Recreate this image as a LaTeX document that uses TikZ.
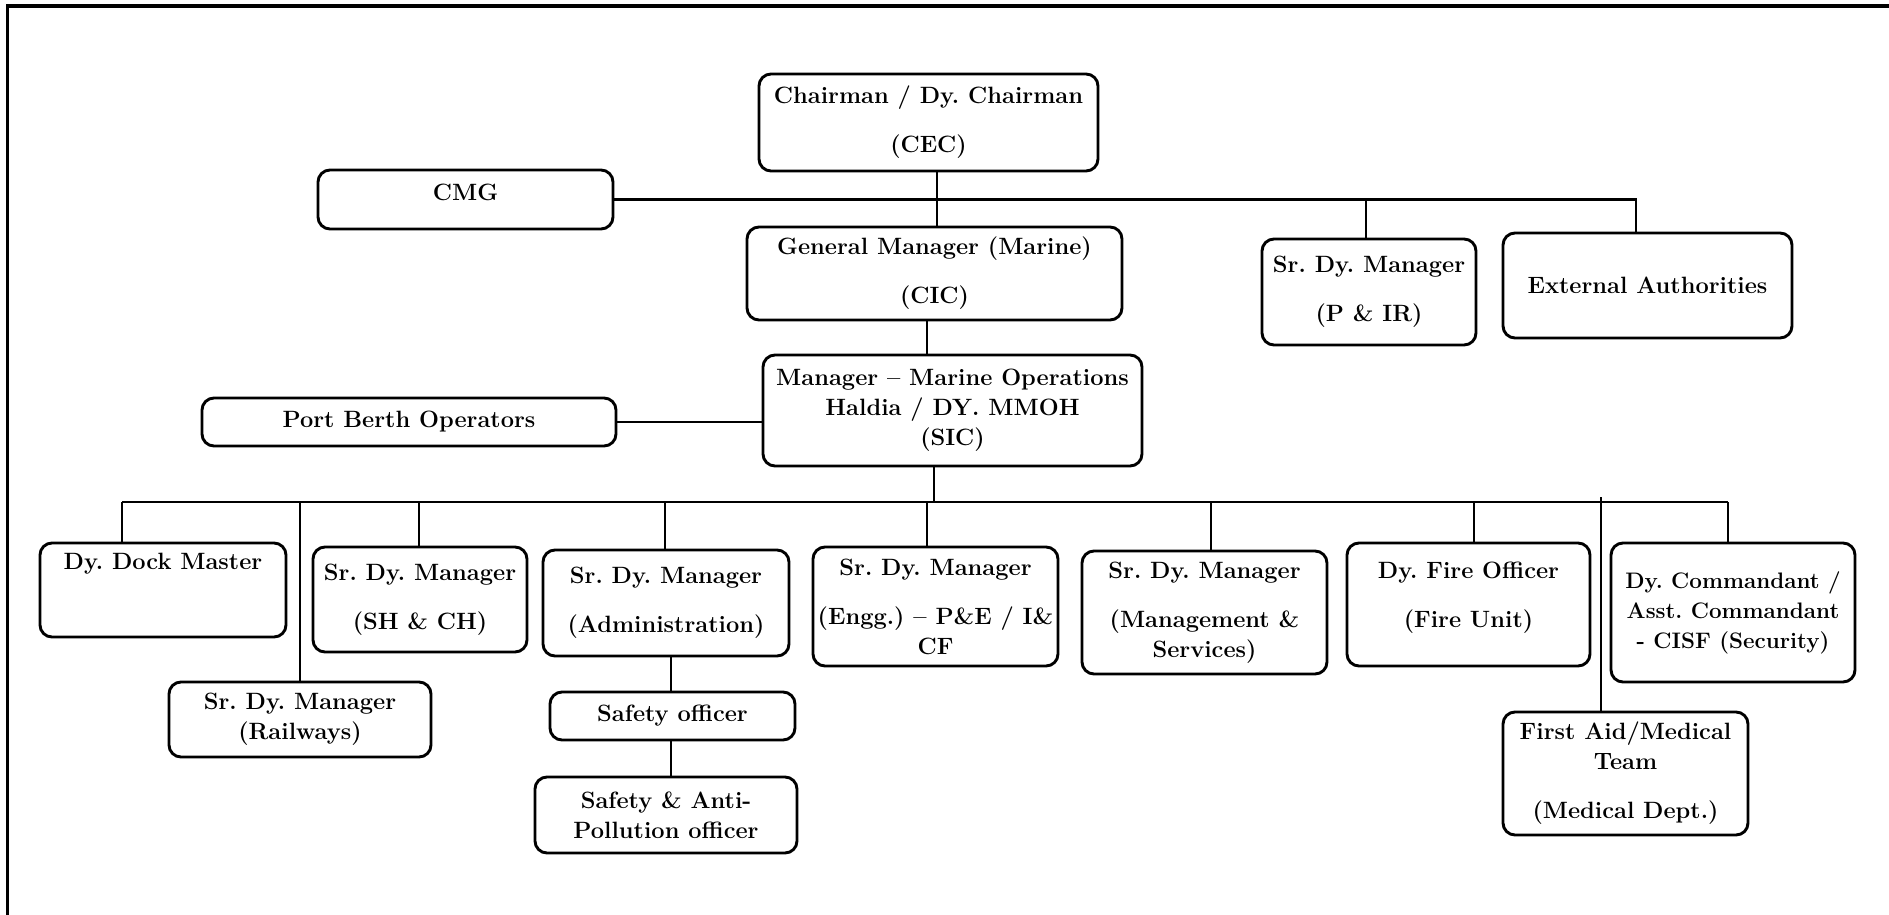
\documentclass[tikz,border=0pt]{standalone}
\begin{document}
\frenchspacing
\begin{tikzpicture}[x=0.5pt,y=-0.5pt,
  box/.style={draw,line width=1.45pt,rounded corners=6pt,inner sep=0pt,align=center,
    font=\fontsize{11.8}{15}\bfseries\selectfont},
  conn/.style={line width=1.15pt}]
\useasboundingbox (0,0) rectangle (1889,915);
\draw[line width=1.6pt] (7.5,915) -- (7.5,6) -- (1889,6);

% top level
\node[box,minimum width=169.5pt,minimum height=48.5pt] (chair) at (928.5,122.5) {Chairman / Dy. Chairman\\[9.5pt](CEC)};
\node[box,minimum width=147.5pt,minimum height=29.5pt,text depth=7.5pt] (cmg) at (465.5,199.5) {CMG};
\node[box,minimum width=187.5pt,minimum height=46.5pt] (gm) at (934.5,273.5) {General Manager (Marine)\\[9.5pt](CIC)};
\node[box,minimum width=107pt,minimum height=53pt] (pir) at (1369,292) {Sr. Dy. Manager\\[9.5pt](P \& IR)};
\node[box,minimum width=144.5pt,minimum height=52.5pt] (ext) at (1647.5,285.5) {External Authorities};
\node[box,minimum width=189.5pt,minimum height=55.5pt] (mmo) at (952.5,410.5) {Manager -- Marine Operations\\Haldia / DY. MMOH\\(SIC)};
\node[box,minimum width=207pt,minimum height=24pt] (pbo) at (409,422) {Port Berth Operators};

% bottom level
\node[box,minimum width=123pt,minimum height=47pt] (dock) at (163,590) {Dy. Dock Master\\[9.5pt]\strut};
\node[box,minimum width=107pt,minimum height=52.5pt] (shch) at (420,599.5) {Sr. Dy. Manager\\[9.5pt](SH \& CH)};
\node[box,minimum width=131pt,minimum height=37.5pt] (rail) at (300,719.5) {Sr. Dy. Manager\\(Railways)};
\node[box,minimum width=123pt,minimum height=53pt] (admin) at (666,603) {Sr. Dy. Manager\\[9.5pt](Administration)};
\node[box,minimum width=122.5pt,minimum height=24pt] (safe) at (672.5,716) {Safety officer};
\node[box,minimum width=131pt,minimum height=38pt] (anti) at (666,815) {Safety \& Anti-\\Pollution officer};
\node[box,minimum width=122.5pt,minimum height=59.5pt] (engg) at (935.5,606.5) {Sr. Dy. Manager\\[9.5pt](Engg.) -- P\&E / I\&\\CF};
\node[box,minimum width=122.5pt,minimum height=61.5pt] (mgmt) at (1204.5,612.5) {Sr. Dy. Manager\\[9.5pt](Management \&\\Services)};
\node[box,minimum width=121.5pt,minimum height=61.5pt,text depth=9.5pt] (fire) at (1468.5,604.5) {Dy. Fire Officer\\[9.5pt](Fire Unit)};
\node[box,minimum width=122pt,minimum height=69.5pt,font=\fontsize{11.2}{15}\bfseries\selectfont] (cisf) at (1733,612.5) {Dy. Commandant /\\Asst. Commandant\\- CISF (Security)};
\node[box,minimum width=122.5pt,minimum height=61.5pt] (med) at (1625.5,773.5) {First Aid/Medical\\Team\\[9.5pt](Medical Dept.)};

% drop positions
\coordinate (c1) at (937,0);
\coordinate (g1) at (927,0);
\coordinate (m1) at (934,0);
\coordinate (px) at (1366,0);
\coordinate (ex) at (1636,0);
\coordinate (a1) at (671,0);
\coordinate (busL) at (122,502);
\coordinate (busR) at (1728,502);
\coordinate (xr) at (300,0);
\coordinate (xs) at (419,0);
\coordinate (xa) at (665,0);
\coordinate (xm) at (1211,0);
\coordinate (xf) at (1474,0);
\coordinate (xd) at (1601,497);

% connectors
\draw[conn] (chair.south -| c1) -- (gm.north -| c1);
\draw[conn] (cmg.east) -| (ext.north -| ex);
\draw[conn] (cmg.east -| px) -- (pir.north -| px);
\draw[conn] (gm.south -| g1) -- (mmo.north -| g1);
\draw[conn] (pbo.east) -- (pbo.east -| mmo.west);
\draw[conn] (mmo.south -| m1) -- (busL -| m1);
\draw[conn] (busL) -- (busR);
\draw[conn] (busL) -- (busL |- dock.north);
\draw[conn] (busL -| xr) -- (rail.north -| xr);
\draw[conn] (busL -| xs) -- (shch.north -| xs);
\draw[conn] (busL -| xa) -- (admin.north -| xa);
\draw[conn] (busL -| g1) -- (engg.north -| g1);
\draw[conn] (busL -| xm) -- (mgmt.north -| xm);
\draw[conn] (busL -| xf) -- (fire.north -| xf);
\draw[conn] (busR) -- (busR |- cisf.north);
\draw[conn] (xd) -- (med.north -| xd);
\draw[conn] (admin.south -| a1) -- (safe.north -| a1);
\draw[conn] (safe.south -| a1) -- (anti.north -| a1);
\end{tikzpicture}
\end{document}
